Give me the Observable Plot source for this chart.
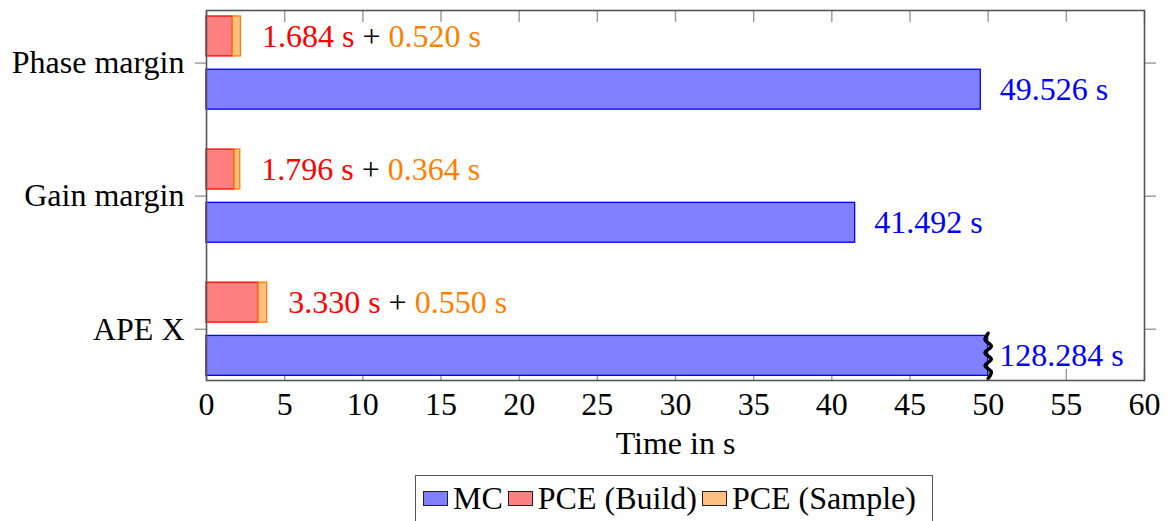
<!DOCTYPE html>
<html>
<head>
<meta charset="utf-8">
<script src="https://cdn.jsdelivr.net/npm/d3@7"></script>
<script src="https://cdn.jsdelivr.net/npm/@observablehq/plot@0.6"></script>
<style>
  html, body { margin: 0; padding: 0; background: #fff; }
  body { font-family: "Liberation Serif", "Times New Roman", serif; position: relative; width: 1169px; height: 521px; overflow: hidden; }
  #legend {
    position: absolute; left: 415px; top: 475px; width: 518px; height: 60px;
    border: 1.5px solid #555; box-sizing: border-box; background: #fff;
    display: flex; align-items: flex-start; padding-left: 7px; padding-top: 4px;
    font-size: 32px; color: #000; white-space: nowrap;
    font-family: "Liberation Serif", "Times New Roman", serif;
  }
  #legend .item { display: flex; align-items: center; margin-right: 5px; }
  #legend .sw { width: 25px; height: 15px; border: 1.3px solid #222; margin-right: 5px; box-sizing: border-box; }
</style>
</head>
<body>
<div id="chart"></div>
<div id="legend"></div>
<script>
// ---- data ----
const categories = ["APE X", "Gain margin", "Phase margin"];
const mcTimes    = [128.284, 41.492, 49.526];
const pceBuild   = [3.330, 1.796, 1.684];
const pceSample  = [0.550, 0.364, 0.520];
const xTicks     = [0, 5, 10, 15, 20, 25, 30, 35, 40, 45, 50, 55, 60];
const axisBreak  = 50;
const seriesNames  = ["MC", "PCE (Build)", "PCE (Sample)"];
const seriesFill   = ["#8080ff", "#ff8080", "#ffbf80"];
const seriesStroke = ["#0000ff", "#ff0000", "#ff8000"];

// ---- derived table ----
const rows = categories.map((c, i) => ({
  i, category: c, mc: mcTimes[i], build: pceBuild[i], sample: pceSample[i]
}));
const fmt = d3.format(".3f");
const serif = "'Liberation Serif', 'Times New Roman', serif";

// zigzag break marker for clipped bars (derived from the break value and bar band)
const zig = [];
rows.filter(d => d.mc > axisBreak).forEach(d => {
  const n = 7;
  for (let k = 0; k <= n; k++) {
    zig.push({ row: d.i, x: axisBreak + (k % 2 ? 0.2 : -0.2) * (k === 0 || k === n ? 0 : 1), y: d.i - 0.37 + k * (0.34 / n) });
  }
});

const fontSize = 32;

const chart = Plot.plot({
  width: 1169,
  height: 460,
  marginLeft: 206,
  marginRight: 25,
  marginTop: 10,
  marginBottom: 80,
  style: { fontFamily: serif, fontSize: fontSize + "px", background: "#fff", color: "#000" },
  x: { domain: [0, 60] },
  y: { domain: [-0.385, 2.395] },
  marks: [
    // inward ticks (drawn beneath bars)
    Plot.axisX(xTicks, { anchor: "top", tickSize: -11, tickFormat: () => "", stroke: "#999", strokeWidth: 1.4, label: null }),
    Plot.axisX(xTicks, { anchor: "bottom", tickSize: -11, tickFormat: () => "", stroke: "#999", strokeWidth: 1.4, label: null }),
    Plot.axisX(xTicks, { anchor: "bottom", tickSize: 0, tickPadding: 12, fontSize: fontSize, fontFamily: serif, label: "Time in s", labelAnchor: "center", labelOffset: 73, labelArrow: "none" }),
    Plot.axisY([0, 1, 2], { anchor: "left", tickSize: 11, tickPadding: 11, tickFormat: i => categories[i], stroke: "#999", strokeWidth: 1.4, fontSize: fontSize, fontFamily: serif, label: null }),
    Plot.axisY([0, 1, 2], { anchor: "right", tickSize: 11, tickFormat: () => "", stroke: "#999", strokeWidth: 1.4, label: null }),
    // MC bars (clipped at axis break)
    Plot.rectX(rows, { x1: 0, x2: d => Math.min(d.mc, axisBreak), y1: d => d.i - 0.35, y2: d => d.i - 0.05,
      fill: seriesFill[0], stroke: seriesStroke[0], strokeWidth: 1.3 }),
    // PCE build
    Plot.rectX(rows, { x1: 0, x2: d => d.build, y1: d => d.i + 0.05, y2: d => d.i + 0.35,
      fill: seriesFill[1], stroke: seriesStroke[1], strokeWidth: 1.3 }),
    // PCE sample
    Plot.rectX(rows, { x1: d => d.build, x2: d => d.build + d.sample, y1: d => d.i + 0.05, y2: d => d.i + 0.35,
      fill: seriesFill[2], stroke: seriesStroke[2], strokeWidth: 1.3 }),
    // break zigzag
    Plot.line(zig, { x: "x", y: "y", z: "row", stroke: "#000", strokeWidth: 3.5, curve: "catmull-rom" }),
    // frame
    Plot.frame({ stroke: "#555", strokeWidth: 1.6 }),
    // MC labels
    Plot.text(rows.filter(d => d.mc <= axisBreak), { x: d => d.mc, y: d => d.i - 0.2, text: d => fmt(d.mc) + " s",
      dx: 19, textAnchor: "start", fill: seriesStroke[0], fontSize: fontSize, fontFamily: serif }),
    Plot.text(rows.filter(d => d.mc > axisBreak), { x: axisBreak, y: d => d.i - 0.2, text: d => fmt(d.mc) + " s",
      dx: 11, textAnchor: "start", fill: seriesStroke[0], fontSize: fontSize, fontFamily: serif }),
    // PCE labels: build (red) + sample (orange)
    Plot.text(rows, { x: d => d.build + d.sample, y: d => d.i + 0.2, text: d => fmt(d.build) + " s",
      dx: 21, textAnchor: "start", fill: seriesStroke[1], fontSize: fontSize, fontFamily: serif,
      render(index, scales, values, dimensions, context, next) {
        const g = next(index, scales, values, dimensions, context);
        const texts = g.querySelectorAll("text");
        texts.forEach((t, j) => {
          const d = rows[index[j]];
          t.textContent = "";
          const ns = "http://www.w3.org/2000/svg";
          const a = document.createElementNS(ns, "tspan"); a.setAttribute("fill", seriesStroke[1]); a.textContent = fmt(d.build) + " s ";
          const b = document.createElementNS(ns, "tspan"); b.setAttribute("fill", "#000"); b.textContent = "+ ";
          const c = document.createElementNS(ns, "tspan"); c.setAttribute("fill", seriesStroke[2]); c.textContent = fmt(d.sample) + " s";
          t.append(a, b, c);
        });
        return g;
      }
    })
  ]
});
document.getElementById("chart").append(chart);

// legend
const legend = document.getElementById("legend");
seriesNames.forEach((name, k) => {
  const item = document.createElement("div"); item.className = "item";
  const sw = document.createElement("div"); sw.className = "sw"; sw.style.background = seriesFill[k];
  const label = document.createElement("span"); label.textContent = name;
  item.append(sw, label);
  legend.append(item);
});
</script>
</body>
</html>
